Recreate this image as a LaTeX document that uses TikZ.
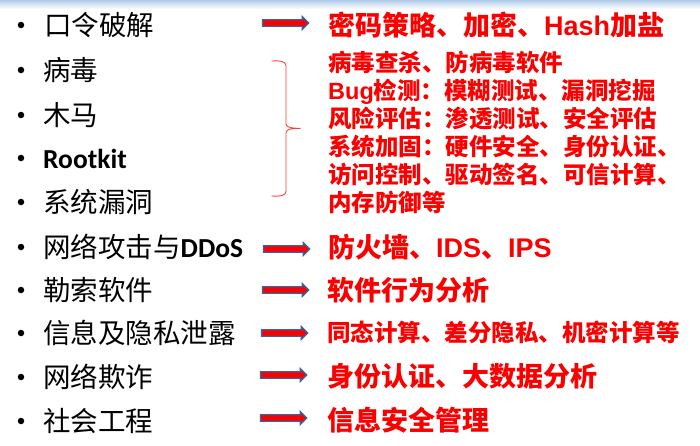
\documentclass[tikz,border=0pt]{standalone}
\usepackage{fontspec}
\usetikzlibrary{shapes.arrows}
\newfontfamily\cjkfont{Noto Sans CJK SC}
\newfontfamily\calib{Carlito}
\newfontfamily\arialf{Liberation Sans}
\definecolor{alertred}{RGB}{250,0,0}
\definecolor{arrowblue}{RGB}{62,96,158}
\definecolor{stripblue}{RGB}{176,204,232}
\tikzset{
  item/.style={anchor=west, inner sep=0pt, text height=23.8pt, text depth=3.2pt,
    font=\fontsize{27.5}{30}\selectfont\cjkfont, text=black},
  dot/.style={circle, fill=black, inner sep=0pt, minimum size=6.5pt},
  remedy/.style={anchor=west, inner sep=0pt, text height=23.8pt, text depth=3.2pt,
    font=\fontsize{27}{30}\selectfont\cjkfont\bfseries, text=alertred},
  remedysmall/.style={anchor=west, inner sep=0pt, text height=20.7pt, text depth=2.8pt,
    font=\fontsize{23.5}{28}\selectfont\cjkfont\bfseries, text=alertred},
  fatarrow/.style={single arrow, draw=arrowblue, fill=alertred, line width=1.3pt,
    minimum height=46pt, inner xsep=0pt, inner ysep=2.6pt,
    single arrow head extend=3pt, outer sep=0pt},
  bracepath/.style={draw=alertred!75, line width=0.9pt},
}
\begin{document}
\begin{tikzpicture}[x=1pt,y=-1pt]
  % page
  \fill[white] (0,0) rectangle (700,445);
  \useasboundingbox (0,0) rectangle (700,445);
  \shade[top color=stripblue, bottom color=white] (0,0) rectangle (700,9);

  % threats (left column)
  \foreach \n/\y in {1/25,2/70,3/115,4/158,5/202,6/247,7/290,8/333,9/377,10/421}
    \node[dot] (b\n) at (21,\y) {};
  \node[item] (t1)  at (44,25)  {口令破解};
  \node[item] (t2)  at (43,70)  {病毒};
  \node[item] (t3)  at (43,115) {木马};
  \node[item] (t4)  at (43,158) {{\calib\bfseries Rootkit}};
  \node[item] (t5)  at (43,202) {系统漏洞};
  \node[item] (t6)  at (43,247) {网络攻击与{\calib\bfseries DDoS}};
  \node[item] (t7)  at (43,290) {勒索软件};
  \node[item] (t8)  at (43,333) {信息及隐私泄露};
  \node[item] (t9)  at (43,377) {网络欺诈};
  \node[item] (t10) at (43,421) {社会工程};

  % arrows
  \node[fatarrow] (a1)  at (284,23)  {};
  \node[fatarrow] (a6)  at (285,249) {};
  \node[fatarrow] (a7)  at (284,290) {};
  \node[fatarrow] (a8)  at (283,333) {};
  \node[fatarrow] (a9)  at (282,375) {};
  \node[fatarrow] (a10) at (282,418) {};

  % brace grouping the four middle threats
  \draw[bracepath] (271.5,61) .. controls (281,60.5) and (286,61.5) .. (286,66)
    -- (286,124) .. controls (286,127.5) and (292,128.3) .. (300.5,128.3)
    .. controls (292,128.3) and (286,129.2) .. (286,132.5)
    -- (286,191) .. controls (286,195.5) and (281,196.5) .. (271.5,196);

  % countermeasures (right column)
  \node[remedy] (r1) at (328,25) {密码策略、加密、{\arialf Hash}加盐};
  \node[remedysmall] (r2a) at (328,63)  {病毒查杀、防病毒软件};
  \node[remedysmall] (r2b) at (328,91)  {{\arialf Bug}检测：模糊测试、漏洞挖掘};
  \node[remedysmall] (r2c) at (328,119) {风险评估：渗透测试、安全评估};
  \node[remedysmall] (r2d) at (328,147) {系统加固：硬件安全、身份认证、};
  \node[remedysmall] (r2e) at (328,175) {访问控制、驱动签名、可信计算、};
  \node[remedysmall] (r2f) at (328,203) {内存防御等};
  \node[remedy] (r6)  at (328,247) {防火墙、{\arialf IDS}、{\arialf IPS}};
  \node[remedy] (r7)  at (327,290) {软件行为分析};
  \node[remedysmall] (r8)  at (327,333) {同态计算、差分隐私、机密计算等};
  \node[remedy] (r9)  at (327,376) {身份认证、大数据分析};
  \node[remedy] (r10) at (327,420) {信息安全管理};
\end{tikzpicture}
\end{document}
